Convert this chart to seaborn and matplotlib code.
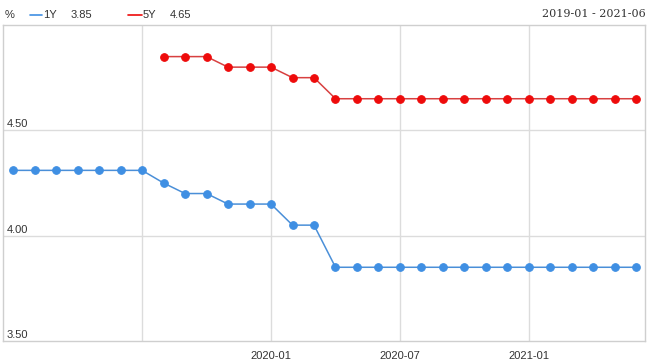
import numpy as np
import pandas as pd
import matplotlib
matplotlib.use("Agg")
import matplotlib.pyplot as plt
import seaborn as sns

months = pd.period_range("2019-01", "2021-06", freq="M").strftime("%Y-%m").tolist()
lpr_1y = [4.31, 4.31, 4.31, 4.31, 4.31, 4.31, 4.31,
          4.25, 4.20, 4.20, 4.15, 4.15, 4.15, 4.05, 4.05,
          3.85, 3.85, 3.85, 3.85, 3.85, 3.85, 3.85, 3.85,
          3.85, 3.85, 3.85, 3.85, 3.85, 3.85, 3.85]
lpr_5y = [np.nan] * 7 + [4.85, 4.85, 4.85, 4.80, 4.80, 4.80, 4.75, 4.75,
                         4.65, 4.65, 4.65, 4.65, 4.65, 4.65, 4.65, 4.65,
                         4.65, 4.65, 4.65, 4.65, 4.65, 4.65, 4.65]
y_ticks = [3.50, 4.00, 4.50]
x_tick_labels = ["2020-01", "2020-07", "2021-01"]

sns.set_style("white")
plt.rcParams["font.family"] = ["Liberation Sans", "DejaVu Sans"]

df = pd.DataFrame({"idx": np.arange(len(months)), "month": months,
                   "1Y": lpr_1y, "5Y": lpr_5y})

fig = plt.figure(figsize=(6.5, 3.64), dpi=100)
ax = fig.add_axes([3 / 650, 23 / 364, 642 / 650, 316 / 364])

blue = "#3f8fe3"
red = "#ee0b0b"
sns.lineplot(data=df, x="idx", y="1Y", ax=ax, color="#4a8fd8", lw=1.1,
             marker="o", markersize=5.5, markerfacecolor=blue,
             markeredgecolor=blue, legend=False)
sns.lineplot(data=df.dropna(), x="idx", y="5Y", ax=ax, color="#d84040", lw=1.1,
             marker="o", markersize=5.5, markerfacecolor=red,
             markeredgecolor=red, legend=False)

ax.set_xlim(-0.47, 29.4)
ax.set_ylim(3.5, 5.0)
ax.set_xlabel("")
ax.set_ylabel("")

# grid
grid_col = "#dcdcdc"
for y in [4.0, 4.5]:
    ax.axhline(y, color=grid_col, lw=1, zorder=0)
for m in ["2019-07", "2020-01", "2020-07", "2021-01"]:
    ax.axvline(months.index(m), color=grid_col, lw=1, zorder=0)

for sp in ax.spines.values():
    sp.set_color("#cfcfcf")
    sp.set_linewidth(1)

ax.set_yticks([])
ax.set_xticks([months.index(m) for m in x_tick_labels])
ax.set_xticklabels(x_tick_labels, fontsize=8, color="#333333")
ax.tick_params(axis="x", length=0, pad=7)

for y in y_ticks:
    ax.text(0.006, y + 0.004, f"{y:.2f}", transform=ax.get_yaxis_transform(),
            fontsize=8, color="#333333", ha="left", va="bottom")

# header legend
hy = 1 - 15 / 364
fig.text(5 / 650, hy, "%", fontsize=8, color="#333333", va="center")
fig.add_artist(plt.Line2D([30 / 650, 42 / 650], [hy] * 2, color=blue, lw=1.2))
fig.text(43 / 650, hy, "1Y", fontsize=8, color="#333333", va="center")
fig.text(71 / 650, hy, "3.85", fontsize=8, color="#333333", va="center")
fig.add_artist(plt.Line2D([128 / 650, 142 / 650], [hy] * 2, color=red, lw=1.2))
fig.text(143 / 650, hy, "5Y", fontsize=8, color="#333333", va="center")
fig.text(170 / 650, hy, "4.65", fontsize=8, color="#333333", va="center")
fig.text(646 / 650, 1 - 14 / 364, f"{months[0]} - {months[-1]}", fontsize=8,
         color="#333333", va="center", ha="right", family=["DejaVu Serif"])

fig.savefig("out.png", dpi=100)
